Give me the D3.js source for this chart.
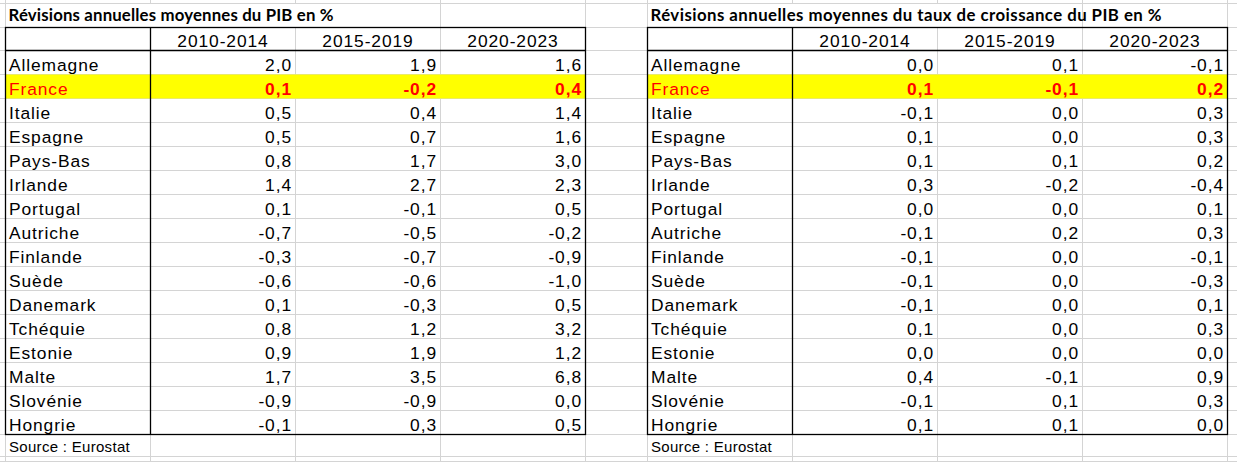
<!DOCTYPE html>
<html>
<head>
<meta charset="utf-8">
<script src="https://cdn.jsdelivr.net/npm/d3@7"></script>
<style>
  body { margin: 0; background: #fff; }
  svg { display: block; }
</style>
</head>
<body>
<svg id="sheet" width="1237" height="462"></svg>
<script>
(function() {

  // Table data
  const countries = ["Allemagne", "France", "Italie", "Espagne", "Pays-Bas", "Irlande", "Portugal",
    "Autriche", "Finlande", "Suède", "Danemark", "Tchéquie", "Estonie", "Malte", "Slovénie", "Hongrie"];
  const periods = ["2010-2014", "2015-2019", "2020-2023"];

  const pibLevel2010 = [2.0, 0.1, 0.5, 0.5, 0.8, 1.4, 0.1, -0.7, -0.3, -0.6, 0.1, 0.8, 0.9, 1.7, -0.9, -0.1];
  const pibLevel2015 = [1.9, -0.2, 0.4, 0.7, 1.7, 2.7, -0.1, -0.5, -0.7, -0.6, -0.3, 1.2, 1.9, 3.5, -0.9, 0.3];
  const pibLevel2020 = [1.6, 0.4, 1.4, 1.6, 3.0, 2.3, 0.5, -0.2, -0.9, -1.0, 0.5, 3.2, 1.2, 6.8, 0.0, 0.5];

  const growth2010 = [0.0, 0.1, -0.1, 0.1, 0.1, 0.3, 0.0, -0.1, -0.1, -0.1, -0.1, 0.1, 0.0, 0.4, -0.1, 0.1];
  const growth2015 = [0.1, -0.1, 0.0, 0.0, 0.1, -0.2, 0.0, 0.2, 0.0, 0.0, 0.0, 0.0, 0.0, -0.1, 0.1, 0.1];
  const growth2020 = [-0.1, 0.2, 0.3, 0.3, 0.2, -0.4, 0.1, 0.3, -0.1, -0.3, 0.1, 0.3, 0.0, 0.9, 0.3, 0.0];

  const highlighted = "France";
  const sourceText = "Source : Eurostat";

  const tables = [
    { title: "Révisions annuelles moyennes du PIB en %", x0: 5.5, titleW: 325,
      series: [pibLevel2010, pibLevel2015, pibLevel2020] },
    { title: "Révisions annuelles moyennes du taux de croissance du PIB en %", x0: 647.5, titleW: 511,
      series: [growth2010, growth2015, growth2020] }
  ];

  const fmt = d3.formatLocale({ decimal: ",", thousands: " ", grouping: [3], currency: ["", ""], minus: "-" }).format(".1f");

  const svg = d3.select("#sheet");
  const W = 1237, H = 462;
  const colW = 145, rowH = 24;
  const gridColor = "#d4d4d4";
  const cellFont = "'Liberation Sans', Arial, sans-serif";
  const cellSize = 17.4, cellSpacing = 0.9;

  // rows of the sheet
  const titleTop = 3.5, headTop = 27.5, bodyTop = 50.5;
  const y = d3.scaleBand().domain(countries).range([bodyTop, bodyTop + rowH * countries.length]);
  const bodyBottom = y.range()[1];
  const sourceBottom = bodyBottom + 22;

  // ---- background gridlines of the sheet ----
  const grid = svg.append("g").attr("stroke", gridColor).attr("stroke-width", 1);
  const hLines = [titleTop, headTop, bodyTop].concat(countries.map(c => y(c) + rowH), [sourceBottom, sourceBottom + 5]);
  grid.selectAll("line.h").data(hLines).enter().append("line")
    .attr("x1", 0).attr("x2", W).attr("y1", d => d).attr("y2", d => d);

  const vLines = [];
  tables.forEach(t => { for (let i = 0; i <= 4; i++) vLines.push(t.x0 + i * colW); });
  grid.selectAll("line.v").data(vLines).enter().append("line")
    .attr("x1", d => d).attr("x2", d => d).attr("y1", 0).attr("y2", H);

  tables.forEach(t => {
    const cols = ["label"].concat(periods);
    const x = d3.scaleBand().domain(cols).range([t.x0, t.x0 + colW * cols.length]);
    const x1 = x.range()[1];
    const g = svg.append("g");

    // title overflow hides gridlines under it
    g.append("rect")
      .attr("x", t.x0 + 0.5).attr("y", titleTop + 0.5)
      .attr("width", colW * 3 - 1).attr("height", headTop - titleTop - 1)
      .attr("fill", "#fff");
    g.append("text")
      .attr("x", t.x0 + 3).attr("y", titleTop + 17.3)
      .attr("font-family", "Lato, 'Open Sans', sans-serif")
      .attr("font-weight", "bold")
      .attr("font-size", 16.8)
      .attr("textLength", t.titleW)
      .attr("lengthAdjust", "spacing")
      .attr("fill", "#000")
      .text(t.title);

    // yellow fill for the highlighted row
    g.append("rect")
      .attr("x", t.x0).attr("y", y(highlighted))
      .attr("width", x1 - t.x0).attr("height", y.bandwidth())
      .attr("fill", "#ffff00");

    // header
    g.selectAll("text.head").data(periods).enter().append("text")
      .attr("x", d => x(d) + x.bandwidth() / 2)
      .attr("y", headTop + 19)
      .attr("text-anchor", "middle")
      .attr("font-family", cellFont).attr("font-size", cellSize).attr("letter-spacing", cellSpacing)
      .attr("fill", "#000")
      .text(d => d);

    // labels
    g.selectAll("text.label").data(countries).enter().append("text")
      .attr("x", x("label") + 3.5)
      .attr("y", d => y(d) + 20)
      .attr("font-family", cellFont).attr("font-size", cellSize).attr("letter-spacing", cellSpacing)
      .attr("fill", d => d === highlighted ? "#ff0000" : "#000")
      .text(d => d);

    // values
    periods.forEach((p, j) => {
      g.selectAll("text.v" + j).data(t.series[j]).enter().append("text")
        .attr("x", x(p) + x.bandwidth() - 3.5)
        .attr("y", (d, i) => y(countries[i]) + 20)
        .attr("text-anchor", "end")
        .attr("font-family", cellFont).attr("font-size", cellSize).attr("letter-spacing", cellSpacing)
        .attr("font-weight", (d, i) => countries[i] === highlighted ? "bold" : "normal")
        .attr("fill", (d, i) => countries[i] === highlighted ? "#ff0000" : "#000")
        .text(d => fmt(d));
    });

    // black borders
    const b = g.append("g").attr("stroke", "#000").attr("stroke-width", 1.3).attr("fill", "none");
    b.append("rect").attr("x", t.x0).attr("y", headTop).attr("width", x1 - t.x0).attr("height", bodyBottom - headTop);
    b.append("line").attr("x1", x(periods[0])).attr("x2", x(periods[0])).attr("y1", headTop).attr("y2", bodyBottom);
    b.append("line").attr("x1", t.x0).attr("x2", x1).attr("y1", bodyTop).attr("y2", bodyTop);

    // source line
    g.append("text")
      .attr("x", t.x0 + 3.5).attr("y", bodyBottom + 17.5)
      .attr("font-family", cellFont).attr("font-size", 15).attr("letter-spacing", 0.3)
      .attr("fill", "#000")
      .text(sourceText);
  });
})();
</script>
</body>
</html>
